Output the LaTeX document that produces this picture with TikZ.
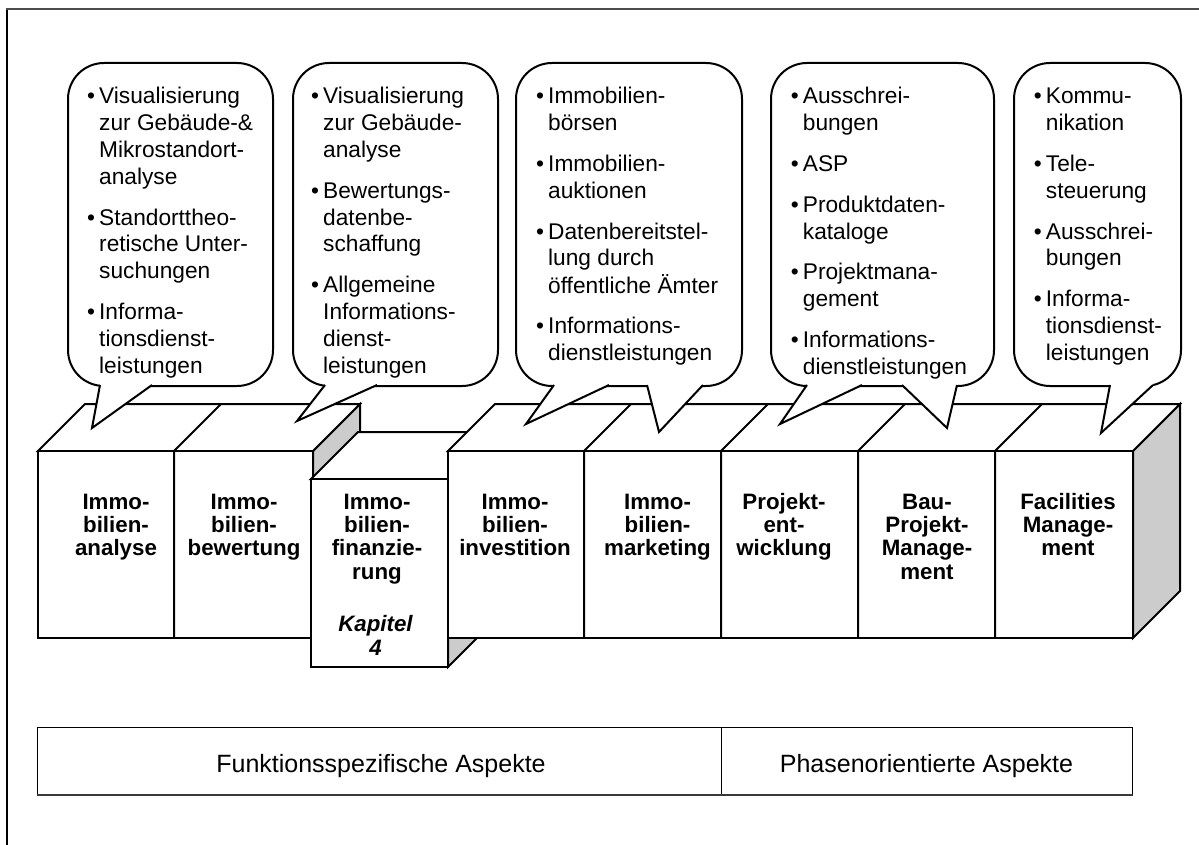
\documentclass[tikz,border=0pt]{standalone}
\usepackage{fontspec}
\setmainfont{Liberation Sans}
\definecolor{sidegray}{RGB}{204,204,204}
\newcommand{\bul}{\makebox[12pt][l]{\textbullet}}
\begin{document}
\begin{tikzpicture}[x=1pt,y=-1pt,
  boxline/.style={line width=2pt, line join=miter},
  bubble/.style={draw, line width=2pt, fill=white, rounded corners=36, inner sep=0pt, anchor=north west},
  tailline/.style={line width=2pt, line join=miter},
  itemtext/.style={inner sep=0pt, anchor=base west, font=\fontsize{22.7}{26.8}\selectfont},
  boxlabel/.style={inner sep=0pt, anchor=base, font=\bfseries\fontsize{22.3}{23.4}\selectfont},
  barcell/.style={draw, line width=1pt, inner sep=0pt, anchor=north west},
  barlabel/.style={inner sep=0pt, anchor=base, font=\fontsize{25}{30}\selectfont}]
\useasboundingbox (0,0) rectangle (1199,845);

% frame
\draw[line width=2pt] (7,845) -- (7,9);
\draw[line width=2pt, gray!60!black] (6,9) -- (1199,9);

% ---- boxes 1-2 ----
\filldraw[boxline, fill=sidegray] (313,451) -- (360,404) -- (360,591) -- (313,638) -- cycle;
\filldraw[boxline, fill=white] (38,451) -- (85,404) -- (360,404) -- (313,451) -- cycle;
\filldraw[boxline, fill=white] (38,451) rectangle (313,638);
\draw[boxline] (174,451) -- (174,638) (174,451) -- (221,404);

% ---- box 3 (set lower) ----
\filldraw[boxline, fill=sidegray] (448,479) -- (495,432) -- (495,620) -- (448,667) -- cycle;
\filldraw[boxline, fill=white] (311,479) -- (358,432) -- (495,432) -- (448,479) -- cycle;
\filldraw[boxline, fill=white] (311,479) rectangle (448,667);

% ---- boxes 4-8 ----
\filldraw[boxline, fill=sidegray] (1133,451) -- (1180,404) -- (1180,591) -- (1133,638) -- cycle;
\filldraw[boxline, fill=white] (448,451) -- (495,404) -- (1180,404) -- (1133,451) -- cycle;
\filldraw[boxline, fill=white] (448,451) rectangle (1133,638);
\foreach \x in {584,721,858,995}
  \draw[boxline] (\x,451) -- (\x,638) (\x,451) -- (\x+47,404);

% box labels
\node[boxlabel] (b1) at (116,509) {\begin{tabular}[t]{@{}c@{}}Immo-\\bilien-\\analyse\end{tabular}};
\node[boxlabel] (b2) at (244,509) {\begin{tabular}[t]{@{}c@{}}Immo-\\bilien-\\bewertung\end{tabular}};
\node[boxlabel] (b3) at (377,509) {\begin{tabular}[t]{@{}c@{}}Immo-\\bilien-\\finanzie-\\rung\end{tabular}};
\node[boxlabel, font=\bfseries\itshape\fontsize{22.3}{23.4}\selectfont] (k4) at (375.5,631.7) {\begin{tabular}[t]{@{}c@{}}Kapitel\\4\end{tabular}};
\node[boxlabel] (b4) at (515,509) {\begin{tabular}[t]{@{}c@{}}Immo-\\bilien-\\investition\end{tabular}};
\node[boxlabel] (b5) at (657.5,509) {\begin{tabular}[t]{@{}c@{}}Immo-\\bilien-\\marketing\end{tabular}};
\node[boxlabel] (b6) at (784,509) {\begin{tabular}[t]{@{}c@{}}Projekt-\\ent-\\wicklung\end{tabular}};
\node[boxlabel] (b7) at (927,509) {\begin{tabular}[t]{@{}c@{}}Bau-\\Projekt-\\Manage-\\ment\end{tabular}};
\node[boxlabel] (b8) at (1068,509) {\begin{tabular}[t]{@{}c@{}}Facilities\\Manage-\\ment\end{tabular}};

% ---- callouts ----
\node[bubble, minimum width=205, minimum height=323] (c1) at (67,62) {};
\node[bubble, minimum width=205, minimum height=323] (c2) at (292,62) {};
\node[bubble, minimum width=226, minimum height=323] (c3) at (515,62) {};
\node[bubble, minimum width=223, minimum height=323] (c4) at (770,62) {};
\node[bubble, minimum width=167, minimum height=323] (c5) at (1013,62) {};

% tails: white wedge hides the bubble edge, then the two sides are stroked
\foreach \a/\tx/\ty/\b in {100/92/428/152, 325/297/421/377, 554/526/424/609, 647/659/432/703,
                           807/780/424/862, 902/947/428/957, 1110/1101/433/1153}{
  \fill[white] (\a,380) -- (\a,385) -- (\tx,\ty) -- (\b,385) -- (\b,380) -- cycle;
  \draw[tailline] (\a,385) -- (\tx,\ty) -- (\b,385);
}

% callout texts
\node[itemtext] (t1) at (87,104) {\begin{tabular}[t]{@{}l@{}l@{}}
\bul & Visualisierung\\ & zur Gebäude-\&\\ & Mikrostandort-\\ & analyse\\[14pt]
\bul & Standorttheo-\\ & retische Unter-\\ & suchungen\\[14pt]
\bul & Informa-\\ & tionsdienst-\\ & leistungen\end{tabular}};
\node[itemtext] (t2) at (311,104) {\begin{tabular}[t]{@{}l@{}l@{}}
\bul & Visualisierung\\ & zur Gebäude-\\ & analyse\\[14pt]
\bul & Bewertungs-\\ & datenbe-\\ & schaffung\\[14pt]
\bul & Allgemeine\\ & Informations-\\ & dienst-\\ & leistungen\end{tabular}};
\node[itemtext] (t3) at (536,104) {\begin{tabular}[t]{@{}l@{}l@{}}
\bul & Immobilien-\\ & börsen\\[14pt]
\bul & Immobilien-\\ & auktionen\\[14pt]
\bul & Datenbereitstel-\\ & lung durch\\ & öffentliche Ämter\\[14pt]
\bul & Informations-\\ & dienstleistungen\end{tabular}};
\node[itemtext] (t4) at (790.7,104) {\begin{tabular}[t]{@{}l@{}l@{}}
\bul & Ausschrei-\\ & bungen\\[14pt]
\bul & ASP\\[14pt]
\bul & Produktdaten-\\ & kataloge\\[14pt]
\bul & Projektmana-\\ & gement\\[14pt]
\bul & Informations-\\ & dienstleistungen\end{tabular}};
\node[itemtext] (t5) at (1033.7,104) {\begin{tabular}[t]{@{}l@{}l@{}}
\bul & Kommu-\\ & nikation\\[14pt]
\bul & Tele-\\ & steuerung\\[14pt]
\bul & Ausschrei-\\ & bungen\\[14pt]
\bul & Informa-\\ & tionsdienst-\\ & leistungen\end{tabular}};

% ---- aspect bar ----
\node[barcell, minimum width=684, minimum height=67] (fa) at (37,727) {};
\node[barcell, minimum width=411, minimum height=67] (pa) at (721,727) {};
\draw[line width=2pt, gray!45!black] (fa.south west) -- (pa.south east);
\node[barlabel] (fal) at (381,772.5) {Funktionsspezifische Aspekte};
\node[barlabel] (pal) at (926.5,772.5) {Phasenorientierte Aspekte};
\end{tikzpicture}
\end{document}
